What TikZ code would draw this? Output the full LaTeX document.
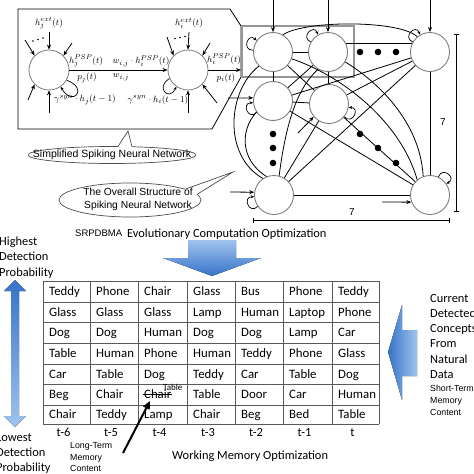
\documentclass[tikz,border=0pt]{standalone}
\usepackage{fontspec}
\newfontfamily\calib{Carlito}
\newfontfamily\arialf{Liberation Sans}
\usetikzlibrary{arrows.meta}
\definecolor{ngray}{RGB}{125,125,125}
\definecolor{tgray}{RGB}{90,90,90}
\definecolor{boxgray}{RGB}{150,150,150}
\definecolor{blueDark}{RGB}{55,115,200}
\definecolor{blueLight}{RGB}{160,195,238}
\tikzset{
  neuron/.style={circle, draw=ngray, line width=0.9pt, minimum size=39pt, inner sep=0pt},
  pneuron/.style={circle, draw=ngray, line width=0.8pt, minimum size=40pt, inner sep=0pt},
  wire/.style={line width=0.8pt, draw=black},
  inarrow/.style={line width=0.8pt, -{Stealth[length=5pt,width=4pt]}},
  selfloop/.style={line width=0.7pt, -{Stealth[length=3.5pt,width=3pt]}},
  mlabel/.style={inner sep=0pt, font=\fontsize{9.5}{11}\selectfont},
  cell/.style={anchor=west, inner sep=0pt, text height=10pt, text depth=2pt, font=\calib\fontsize{12.8}{14}\selectfont},
  collabel/.style={anchor=base, inner sep=0pt, font=\calib\fontsize{12.4}{14}\selectfont},
  bigtxt/.style={anchor=base west, inner sep=0pt, font=\calib\fontsize{12.4}{14}\selectfont},
  smalltxt/.style={anchor=base west, inner sep=0pt, font=\arialf\fontsize{8.8}{10}\selectfont},
  tableline/.style={draw=tgray, line width=0.8pt},
  callline/.style={draw=gray!60!black, line width=0.7pt},
  dimline/.style={line width=0.8pt, {Bar[width=5pt]}-{Bar[width=5pt]}}
}
\begin{document}
\begin{tikzpicture}[x=1pt,y=1pt]
\useasboundingbox (0,0) rectangle (474,-474);

% ---------------- left panel (simplified network) ----------------
\draw[line width=0.8pt] (18,-9) -- (230,-9) -- (241,-26) -- (241,-77) -- (212,-129) -- (18,-129) -- cycle;
\node[pneuron] (j) at (49,-70) {};
\node[pneuron] (i) at (188,-70) {};
\coordinate (jt) at (49,-32);
\coordinate (jtl) at (25,-40);
\coordinate (jtr) at (72,-43);
\coordinate (jbl) at (28,-100);
\coordinate (jb) at (49,-113);
\coordinate (it) at (189,-32);
\coordinate (itl) at (167,-37);
\coordinate (itr) at (210,-43);
\coordinate (ibr) at (217,-103);
\coordinate (ib) at (188,-113);
\coordinate (iout) at (241,-70);
\draw[inarrow] (jt) -- (j.north);
\draw[inarrow] (jtl) -- (j.135);
\draw[inarrow] (jtr) -- (j.45);
\draw[inarrow] (jbl) -- (j.225);
\draw[inarrow] (jb) -- (j.south);
\draw[inarrow] (it) -- (i.north);
\draw[inarrow] (itl) -- (i.135);
\draw[inarrow] (itr) -- (i.45);
\draw[inarrow] (ibr) -- (i.-45);
\draw[inarrow] (ib) -- (i.south);
\draw[inarrow] (j.east) -- (i.west);
\draw[inarrow] (i.east) -- (iout);
\draw[selfloop] (j.-30) .. controls +(-20:24) and +(-60:24) .. (j.-55);
\draw[selfloop] (i.205) .. controls +(210:17) and +(245:17) .. (i.235);
\foreach \p in {(33,-41),(38,-39.5),(43,-38),(175,-38.5),(180,-37.5),(185,-36.5)}
  \fill \p circle (0.8);
\node[mlabel] (ljext) at (49,-23) {$h_j^{ext}(t)$};
\node[mlabel] (ljpsp) at (86,-61) {$h_j^{PSP}(t)$};
\node[mlabel] (lpj) at (87,-78) {$p_j(t)$};
\node[mlabel] (lwh) at (141,-61) {$w_{i,j}\cdot h_i^{PSP}(t)$};
\node[mlabel] (lw) at (121,-77) {$w_{i,j}$};
\node[mlabel] (lgj) at (85,-100) {$\gamma^{syn}\cdot h_j(t-1)$};
\node[mlabel] (lgi) at (158,-100) {$\gamma^{syn}\cdot h_i(t-1)$};
\node[mlabel] (liext) at (189,-23) {$h_i^{ext}(t)$};
\node[mlabel] (lipsp) at (224,-59) {$h_i^{PSP}(t)$};
\node[mlabel] (lpi) at (226,-78) {$p_i(t)$};

% ---------------- callout ellipses ----------------
\draw[callline] (112,-155) ellipse [x radius=84, y radius=8.5];
\fill[white] (118,-146.5) -- (128,-131) -- (132,-146.7) -- (132,-149) -- (118,-149) -- cycle;
\draw[callline] (118,-146.5) -- (128,-131) -- (132,-146.7);
\node[inner sep=0pt, font=\arialf\fontsize{10.5}{12}\selectfont] (simp) at (112,-155) {Simplified Spiking Neural Network};

\draw[callline] (130,-200) ellipse [x radius=71, y radius=17];
\fill[white] (185,-189.25) -- (233,-172) -- (197,-194.4) -- (193,-197) -- (183,-192) -- cycle;
\draw[callline] (185,-189.25) -- (233,-172) -- (197,-194.4);
\node[inner sep=0pt, align=center, font=\arialf\fontsize{10.3}{13}\selectfont] (overall) at (138,-199) {The Overall Structure of\\Spiking Neural Network};

% ---------------- network ----------------
\draw[draw=boxgray, line width=1.1pt] (242,-26) rectangle (354,-77);
\node[neuron] (N1) at (273,-52) {};
\node[neuron] (N2) at (328,-52) {};
\node[neuron] (N3) at (430,-52) {};
\node[neuron] (N4) at (273,-101) {};
\node[neuron] (N5) at (329,-104) {};
\node[neuron] (N6) at (274,-195) {};
\node[neuron] (N7) at (430,-195) {};

\draw[wire] (N1) -- (N2);
\draw[wire] (N2.24) -- (N3.156);
\draw[wire] (N1.60) .. controls (305,-20) and (400,-20) .. (N3.130);
\draw[wire] (N1) -- (N4);
\draw[wire] (N2) -- (N5);
\draw[wire] (N4) -- (N5);
\draw[wire] (N1) -- (N5);
\draw[wire] (N2) -- (N4);
\draw[wire] (N3) -- (N4);
\draw[wire] (N3) -- (N5);
\draw[wire] (N3) -- (N6);
\draw[wire] (N3) -- (N7);
\draw[wire] (N4) -- (N7);
\draw[wire] (N5) -- (N7);
\draw[wire] (N6) -- (N7);
\draw[wire] (N5) -- (N6);
\draw[wire] (N1.-20) .. controls (340,-75) and (400,-120) .. (N7.130);
\draw[wire] (N2.-30) .. controls (375,-80) and (420,-120) .. (N7.110);
\draw[wire] (N1.225) .. controls (228,-90) and (222,-155) .. (N6.124);
\draw[wire] (N4.214) .. controls (240,-130) and (240,-160) .. (N6.112);
\draw[wire] (N2.240) .. controls (295,-90) and (285,-130) .. (N6.75);

\coordinate (t1) at (273,0);
\coordinate (t2) at (328,0);
\coordinate (t3) at (430,0);
\coordinate (l4) at (228,-98);
\coordinate (l5) at (298,-133);
\coordinate (l6) at (230,-192);
\coordinate (l7) at (382,-202);
\draw[inarrow] (t1) -- (N1.north);
\draw[inarrow] (t2) -- (N2.north);
\draw[inarrow] (t3) -- (N3.north);
\draw[inarrow] (l4) -- (N4.171);
\draw[inarrow] (l5) -- (N5.220);
\draw[inarrow] (l6) -- (N6.172);
\draw[inarrow] (l7) -- (N7.201);

\draw[selfloop] (N1.175) .. controls +(180:12) and +(135:12) .. (N1.145);
\draw[selfloop] (N2.150) .. controls +(155:12) and +(110:12) .. (N2.120);
\draw[selfloop] (N3.150) .. controls +(155:12) and +(110:12) .. (N3.120);
\draw[selfloop] (N4.215) .. controls +(225:12) and +(180:12) .. (N4.185);
\draw[selfloop] (N5.-40) .. controls +(-45:12) and +(0:12) .. (N5.-10);
\draw[selfloop] (N6.215) .. controls +(225:12) and +(180:12) .. (N6.185);
\draw[selfloop] (N7.65) .. controls +(70:12) and +(25:12) .. (N7.35);

\foreach \p in {(360,-52),(378,-52),(396,-52),(273,-134),(273,-148),(273,-163),(360,-134),(378,-148),(396,-163)}
  \fill \p circle (3.3);

\coordinate (dv1) at (456,-34);
\coordinate (dv2) at (456,-212);
\coordinate (dh1) at (253,-220);
\coordinate (dh2) at (450,-220);
\draw[dimline] (dv1) -- (dv2);
\draw[dimline] (dh1) -- (dh2);
\node[inner sep=0pt, font=\arialf\fontsize{10}{12}\selectfont] (dimv) at (443,-122) {7};
\node[inner sep=0pt, font=\arialf\fontsize{10}{12}\selectfont] (dimh) at (352,-212) {7};

% ---------------- lower part ----------------
\node[anchor=base west, inner sep=0pt, font=\arialf\fontsize{9.5}{11}\selectfont] (srp) at (75,-236.5) {SRPDBMA};
\node[bigtxt] (evo) at (127,-237) {Evolutionary Computation Optimization};
\node[bigtxt] (wmo) at (172,-459) {Working Memory Optimization};

% big down arrow
\fill[top color=blueLight, bottom color=blueDark] (188,-240) -- (236,-240) -- (236,-258) -- (261,-258) -- (212,-276) -- (163,-258) -- (188,-258) -- cycle;
% double arrow
\fill[top color=blueDark, bottom color=blueLight] (15,-280) -- (26,-291) -- (19,-291) -- (19,-416) -- (26,-416) -- (15,-427) -- (4,-416) -- (11,-416) -- (11,-291) -- (4,-291) -- cycle;
% left arrow
\fill[left color=blueDark, right color=blueLight] (388,-352) -- (402,-305) -- (402,-330) -- (417,-330) -- (417,-376) -- (402,-376) -- (402,-400) -- cycle;

% table grid
\foreach \x in {43,90,138,187,235,283,332,379} \draw[tableline] (\x,-281) -- (\x,-424);
\foreach \y in {281,302,322,343,364,384,405,424} \draw[tableline] (43,-\y) -- (379,-\y);

\foreach \row [count=\r] in {{Teddy,Phone,Chair,Glass,Bus,Phone,Teddy},{Glass,Glass,Glass,Lamp,Human,Laptop,Phone},{Dog,Dog,Human,Dog,Dog,Lamp,Car},{Table,Human,Phone,Human,Teddy,Phone,Glass},{Car,Table,Dog,Teddy,Car,Table,Dog},{Beg,Chair,Chair,Table,Door,Car,Human},{Chair,Teddy,Lamp,Chair,Beg,Bed,Table}} {
  \pgfmathsetmacro\ry{{291.5,312,332.5,353.5,374,394.5,414.5}[\r-1]}
  \foreach \w [count=\c] in \row {
    \pgfmathsetmacro\cx{{43,90,138,187,235,283,332,379}[\c-1]+6}
    \node[cell] (cell\r-\c) at (\cx,-\ry) {\w};
  }
}
\draw[line width=0.8pt] ([xshift=-1pt]cell6-3.west) -- ([xshift=1pt]cell6-3.east);
\node[anchor=base west, inner sep=0pt, font=\calib\fontsize{9}{10}\selectfont] (tabnote) at (163,-390) {Table};

\foreach \t/\x [count=\k] in {t-6/63.5,t-5/111,t-4/159.5,t-3/208,t-2/256,t-1/304.5,t/352.5}
  \node[collabel] (col\k) at (\x,-436) {\t};

% long-term memory arrow
\node[smalltxt] (ltm1) at (70,-448) {Long-Term};
\node[smalltxt] (ltm2) at (70,-460) {Memory};
\node[smalltxt] (ltm3) at (70,-471) {Content};
\coordinate (ltmtail) at (123,-453);
\coordinate (ltmhead) at (150,-401);
\draw[line width=2pt, -{Triangle[length=8pt,width=7pt]}] (ltmtail) -- (ltmhead);

% side texts
\node[bigtxt] (hi1) at (-1,-245) {Highest};
\node[bigtxt] (hi2) at (-1,-260) {Detection};
\node[bigtxt] (hi3) at (-1,-276) {Probability};
\node[bigtxt] (lo1) at (-4,-441) {Lowest};
\node[bigtxt] (lo2) at (-4,-456) {Detection};
\node[bigtxt] (lo3) at (-4,-471) {Probability};

\node[bigtxt] (cu1) at (430,-302) {Current};
\node[bigtxt] (cu2) at (430,-317) {Detected};
\node[bigtxt] (cu3) at (430,-332) {Concepts};
\node[bigtxt] (cu4) at (430,-347) {From};
\node[bigtxt] (cu5) at (430,-363) {Natural};
\node[bigtxt] (cu6) at (430,-378) {Data};
\node[smalltxt] (st1) at (430,-391) {Short-Term};
\node[smalltxt] (st2) at (430,-403) {Memory};
\node[smalltxt] (st3) at (430,-415) {Content};
\end{tikzpicture}
\end{document}
